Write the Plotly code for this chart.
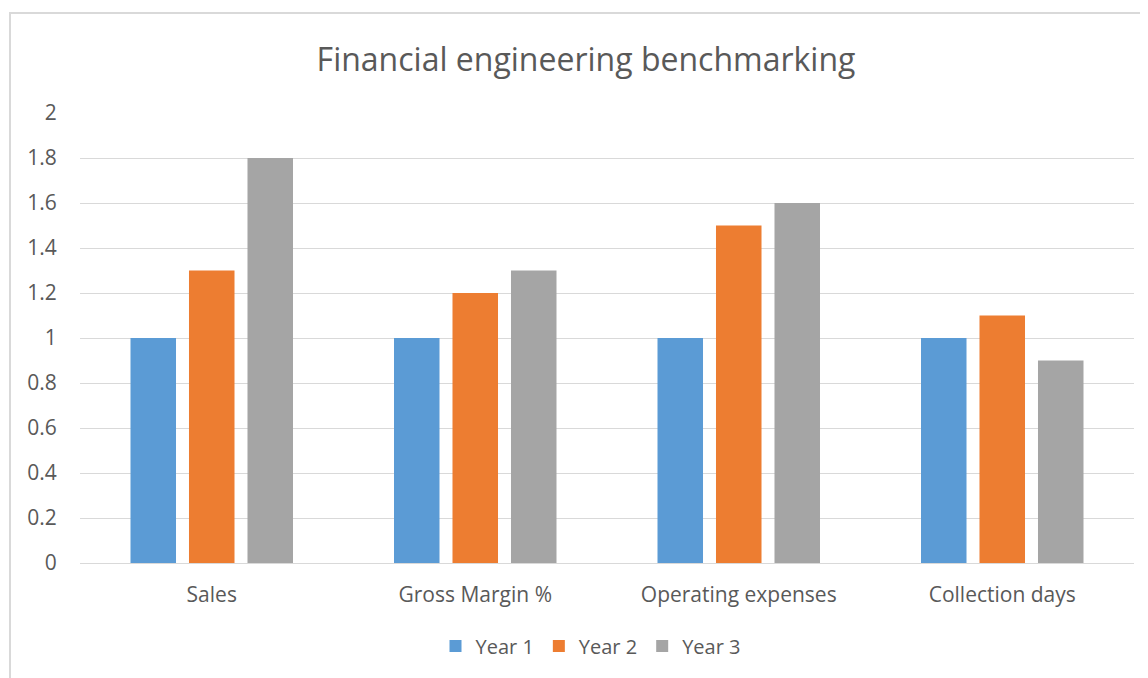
import plotly.graph_objects as go

categories = ["Sales", "Gross Margin %", "Operating expenses", "Collection days"]
year1 = [1.0, 1.0, 1.0, 1.0]
year2 = [1.3, 1.2, 1.5, 1.1]
year3 = [1.8, 1.3, 1.6, 0.9]
series_names = ["Year 1", "Year 2", "Year 3"]
colors = ["#5B9BD5", "#ED7D31", "#A5A5A5"]

FONT = "Open Sans"
TXT = "#595959"

fig = go.Figure()
for name, vals, c in zip(series_names, [year1, year2, year3], colors):
    fig.add_trace(go.Bar(x=categories, y=vals, name=name, marker=dict(color=c, line=dict(width=0))))

# page offset (body margin) of 8px
OFF = 8
W, H = 1140, 670
L, R, T, B = 80 - OFF, 14, 113 - OFF, 670 - (563 - OFF)
pw, ph = W - L - R, H - T - B

def px(xp):
    return (xp - OFF - L) / pw

def py(yp):
    return (H - B - (yp - OFF)) / ph

fig.update_layout(
    width=W, height=H,
    margin=dict(l=L, r=R, t=T, b=B),
    paper_bgcolor="white", plot_bgcolor="white",
    barmode="group", bargap=0.334, bargroupgap=0.222,
    font=dict(family=FONT, color=TXT, size=21),
    title=dict(text="Financial engineering benchmarking", x=px(586), xanchor="center", xref="paper",
               y=1 - (60 - OFF) / H, yanchor="middle", yref="container",
               font=dict(family=FONT, size=32, color=TXT)),
    legend=dict(orientation="h", x=px(591), xanchor="center", y=py(646), yanchor="middle",
                font=dict(family=FONT, size=20, color=TXT)),
    showlegend=True,
    shapes=[dict(type="rect", xref="paper", yref="paper",
                 x0=px(10), x1=px(1170), y0=py(700), y1=py(13),
                 line=dict(color="#D9D9D9", width=2), fillcolor="rgba(0,0,0,0)", layer="below")],
)
fig.update_yaxes(range=[0, 2], dtick=0.2, tick0=0, showgrid=True, gridcolor="#D9D9D9", gridwidth=1,
                 zeroline=True, zerolinecolor="#D9D9D9", zerolinewidth=1, showline=False,
                 ticks="outside", ticklen=18, tickcolor="rgba(0,0,0,0)",
                 tickfont=dict(family=FONT, size=21, color=TXT))
fig.update_xaxes(showgrid=False, showline=True, linecolor="#D9D9D9", linewidth=1,
                 ticks="outside", ticklen=13, tickcolor="rgba(0,0,0,0)",
                 tickfont=dict(family=FONT, size=21, color=TXT))

fig.write_html("out.html")
